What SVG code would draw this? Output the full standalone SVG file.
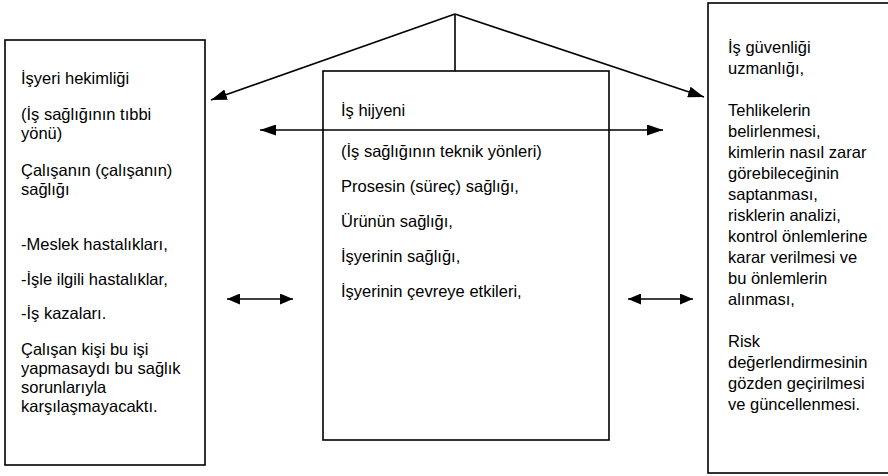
<svg xmlns="http://www.w3.org/2000/svg" width="888" height="476" viewBox="0 0 888 476">
<defs>
<marker id="ah" viewBox="0 0 16 11" refX="16" refY="5.5" markerWidth="16" markerHeight="11" markerUnits="userSpaceOnUse" orient="auto-start-reverse"><path d="M0,0 L16,5.5 L0,11 Z" fill="#000"/></marker>
<marker id="ahs" viewBox="0 0 13 11" refX="13" refY="5.5" markerWidth="13" markerHeight="11" markerUnits="userSpaceOnUse" orient="auto-start-reverse"><path d="M0,0 L13,5.5 L0,11 Z" fill="#000"/></marker>
</defs>
<style>
.box{fill:#fff;stroke:#000;stroke-width:1.6}
.t{font-family:'Liberation Sans',Arial,sans-serif;font-size:16.5px;fill:#000}
.c{stroke:#000;stroke-width:1.6;fill:none}
</style>
<rect width="888" height="476" fill="#fff"/>
<g id="left">
<rect class="box" x="5" y="40" width="200" height="425"/>
<text class="t" x="21" y="84">İşyeri hekimliği</text>
<text class="t" x="21" y="120">(İş sağlığının tıbbi</text>
<text class="t" x="21" y="139">yönü)</text>
<text class="t" x="21" y="176">Çalışanın (çalışanın)</text>
<text class="t" x="21" y="195">sağlığı</text>
<text class="t" x="21" y="250">-Meslek hastalıkları,</text>
<text class="t" x="21" y="285">-İşle ilgili hastalıklar,</text>
<text class="t" x="21" y="319">-İş kazaları.</text>
<text class="t" x="21" y="355">Çalışan kişi bu işi</text>
<text class="t" x="21" y="374">yapmasaydı bu sağlık</text>
<text class="t" x="21" y="393">sorunlarıyla</text>
<text class="t" x="21" y="412">karşılaşmayacaktı.</text>
</g>
<g id="center">
<rect class="box" x="323" y="71" width="286" height="369"/>
<text class="t" x="341" y="116">İş hijyeni</text>
<text class="t" x="341" y="157">(İş sağlığının teknik yönleri)</text>
<text class="t" x="341" y="192">Prosesin (süreç) sağlığı,</text>
<text class="t" x="341" y="227">Ürünün sağlığı,</text>
<text class="t" x="341" y="262">İşyerinin sağlığı,</text>
<text class="t" x="341" y="297">İşyerinin çevreye etkileri,</text>
</g>
<g id="right">
<rect class="box" x="708" y="3" width="190" height="470"/>
<text class="t" x="728" y="53">İş güvenliği</text>
<text class="t" x="728" y="74">uzmanlığı,</text>
<text class="t" x="728" y="116">Tehlikelerin</text>
<text class="t" x="728" y="137">belirlenmesi,</text>
<text class="t" x="728" y="158">kimlerin nasıl zarar</text>
<text class="t" x="728" y="179">görebileceğinin</text>
<text class="t" x="728" y="200">saptanması,</text>
<text class="t" x="728" y="221">risklerin analizi,</text>
<text class="t" x="728" y="242">kontrol önlemlerine</text>
<text class="t" x="728" y="263">karar verilmesi ve</text>
<text class="t" x="728" y="284">bu önlemlerin</text>
<text class="t" x="728" y="305">alınması,</text>
<text class="t" x="728" y="347">Risk</text>
<text class="t" x="728" y="368">değerlendirmesinin</text>
<text class="t" x="728" y="389">gözden geçirilmesi</text>
<text class="t" x="728" y="410">ve güncellenmesi.</text>
</g>
<g id="connectors">
<line class="c" x1="455" y1="14" x2="211" y2="100" marker-end="url(#ah)"/>
<line class="c" x1="455" y1="14" x2="704" y2="97" marker-end="url(#ah)"/>
<line class="c" x1="455" y1="14" x2="455" y2="71"/>
<line class="c" x1="260" y1="130" x2="663" y2="130" marker-start="url(#ah)" marker-end="url(#ah)"/>
<line class="c" x1="227" y1="299" x2="293" y2="299" marker-start="url(#ahs)" marker-end="url(#ahs)"/>
<line class="c" x1="628" y1="299" x2="693" y2="299" marker-start="url(#ahs)" marker-end="url(#ahs)"/>
</g>
</svg>
